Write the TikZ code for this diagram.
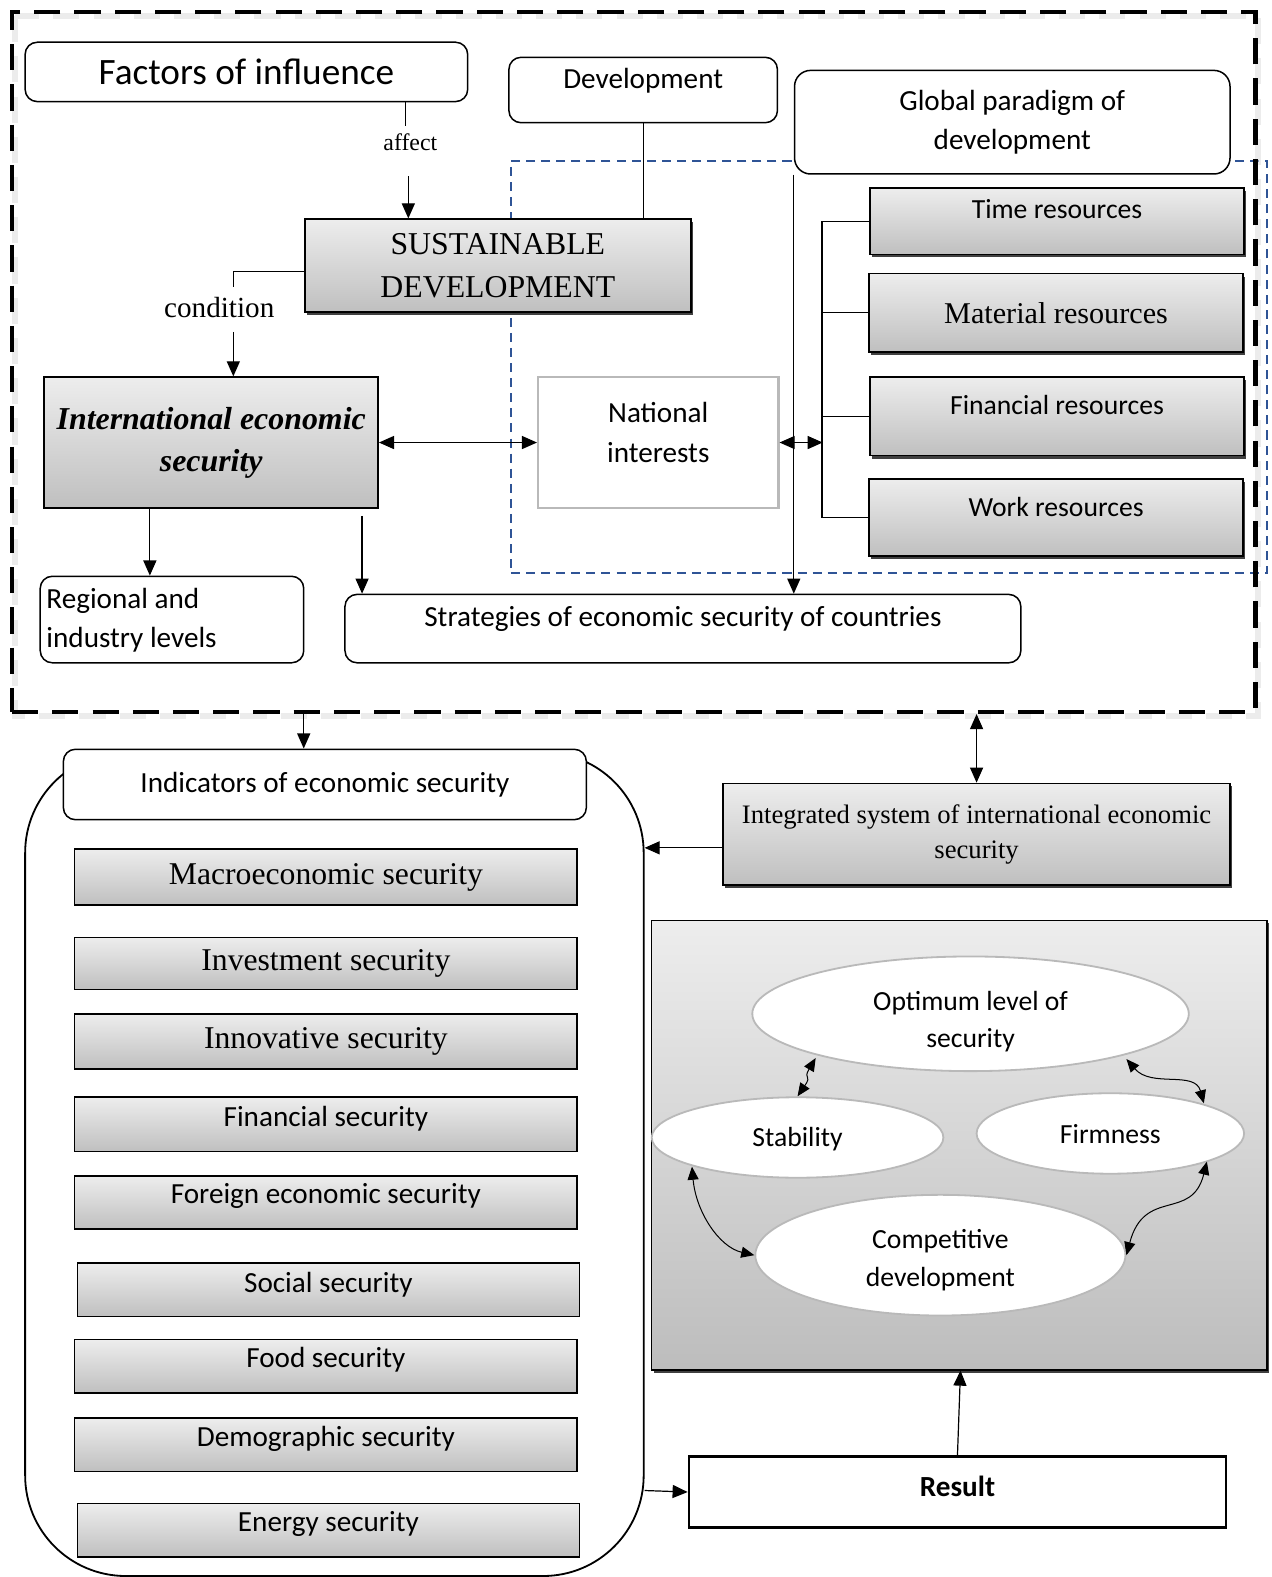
\documentclass[tikz,border=0pt]{standalone}
\usepackage{fontspec}
\setmainfont{Liberation Serif}
\newfontfamily\calib{Carlito}
\usetikzlibrary{arrows.meta,shapes.geometric,shadows}
\newcommand\fsz[2]{\fontsize{#1}{#2}\selectfont}
\definecolor{zoneblue}{HTML}{2F5496}
\tikzset{
  rbox/.style={draw, line width=1.5pt, rounded corners=12pt, fill=white, inner sep=0pt},
  gbox/.style={draw, line width=1.6pt, top color=gray!14, bottom color=gray!50, inner sep=0pt},
  gboxs/.style={gbox, drop shadow={shadow xshift=2pt, shadow yshift=-3pt, opacity=0.75, fill=black}},
  stxt/.style={inner sep=0pt, align=center, font=\calib\fsz{29}{39}},
  rtxt/.style={inner sep=0pt, align=center, font=\calib\fsz{27.5}{37}},
  itxt/.style={inner sep=0pt, align=center, font=\calib\fsz{29}{37}},
  serifitem/.style={gbox, minimum width=500pt, font=\fsz{31.5}{38}},
  sansitem/.style={gbox, minimum width=500pt},
  oval/.style={ellipse, draw=gray!55, line width=1.8pt, fill=white, inner sep=0pt},
  otxt/.style={inner sep=0pt, align=center, font=\calib\fsz{27.5}{37}},
  arr/.style={-{Triangle[length=15pt,width=13pt]}, line width=1.2pt},
  darr/.style={{Triangle[length=15pt,width=13pt]}-{Triangle[length=15pt,width=13pt]}, line width=1.2pt},
  sarr/.style={{Triangle[length=13pt,width=11pt]}-{Triangle[length=13pt,width=11pt]}, line width=1pt},
  plain/.style={line width=1.2pt},
}
\begin{document}
\begin{tikzpicture}[x=1pt,y=-1pt]
\useasboundingbox (0,0) rectangle (1264,1568);

% ---------- top frame ----------
\node[draw=zoneblue, line width=1.6pt, dash pattern=on 9pt off 6pt, minimum width=752pt, minimum height=410pt, inner sep=0pt] (zone) at (884,365) {};
\draw[gray!30, line width=6pt, dash pattern=on 26pt off 14pt, opacity=0.5] (15,16) rectangle (1251,712);
\node[draw, line width=4.8pt, dash pattern=on 26pt off 14pt, minimum width=1236pt, minimum height=696pt, inner sep=0pt] (frame) at (630,360) {};

\node[rbox, minimum width=440pt, minimum height=59pt, font=\calib\fsz{37}{44}] (fac) at (245,71.5) {Factors of influence};
\node[rbox, minimum width=267pt, minimum height=65pt] (dev) at (639.5,89.5) {};
\node[stxt] (devt) at (639.5,80) {Development};
\node[rbox, rounded corners=16pt, minimum width=433pt, minimum height=103pt, align=center, font=\calib\fsz{29}{39}] (glob) at (1006.5,121.5) {Global paradigm of\\development};

\node[gboxs, minimum width=384pt, minimum height=92pt, align=center, font=\fsz{31.6}{43}] (sd) at (495,264) {SUSTAINABLE\\DEVELOPMENT};
\node[inner sep=0pt, font=\fsz{23.7}{28}] (affect) at (408,141) {affect};
\node[inner sep=0pt, font=\fsz{29}{34}] (cond) at (218,306) {condition};

\node[gbox, minimum width=332pt, minimum height=130pt, align=center, font=\bfseries\itshape\fsz{31.7}{42}] (ies) at (210,440) {International economic\\security};
\node[draw=gray!55, line width=2.2pt, fill=white, minimum width=239pt, minimum height=130pt, inner sep=0pt] (ni) at (654.5,440) {};
\node[stxt] (nit) at (654.5,430) {National\\interests};

\node[gboxs, minimum width=372pt, minimum height=66pt] (time) at (1051,220) {};
\node[rtxt] (timet) at (1051,208) {Time resources};
\node[gboxs, minimum width=372pt, minimum height=78pt, font=\fsz{30}{36}] (mat) at (1050,311) {Material resources};
\node[gboxs, minimum width=372pt, minimum height=78pt] (fin) at (1051,414) {};
\node[rtxt] (fint) at (1051,403) {Financial resources};
\node[gboxs, minimum width=372pt, minimum height=77pt] (work) at (1050,514.5) {};
\node[rtxt] (workt) at (1050,504) {Work resources};

\node[rbox, minimum width=262pt, minimum height=86pt] (reg) at (171,616) {};
\node[stxt, anchor=west, align=left] (regt) at (46,617) {Regional and\\industry levels};
\node[rbox, minimum width=672pt, minimum height=68pt] (strat) at (679,625) {};
\node[stxt] (stratt) at (679,615) {Strategies of economic security of countries};

% top connectors
\draw[plain] (fac.south -| 403,0) -- (403,125);
\draw[arr] (406,175) -- (sd.north -| 406,0);
\draw[plain] (dev.south) -- (sd.north -| dev.south);
\draw[plain] (sd.west |- 0,270) -| (232,285);
\draw[arr] (232,330) -- (ies.north -| 232,0);
\draw[darr] (ies.east) -- (ni.west);
\draw[darr] (ni.east) -- (818,440);
\draw[plain] (time.west) -- ++(-47,0) |- (work.west);
\draw[plain] (mat.west) -- ++(-46,0);
\draw[plain] (fin.west) -- ++(-47,0);
\draw[arr] (glob.south west) -- (strat.north -| glob.south west);
\draw[arr] (ies.south -| 149,0) -- (reg.north -| 149,0);
\draw[arr] (360,513) -- (strat.north -| 360,0);

% ---------- bottom left ----------
\node[draw, line width=1.8pt, rounded corners=100pt, minimum width=615pt, minimum height=819pt, inner sep=0pt] (cont) at (332.5,1157.5) {};
\node[rbox, minimum width=520pt, minimum height=70pt, font=\calib\fsz{29}{35}] (ind) at (323,780) {Indicators of economic security};

\node[serifitem, minimum height=56pt] (macro) at (324,872) {Macroeconomic security};
\node[serifitem, minimum height=52pt] (inv) at (324,958) {Investment security};
\node[serifitem, minimum height=55pt] (inn) at (324,1035.5) {Innovative security};
\node[sansitem, minimum height=54pt] (fsec) at (324,1118) {};
\node[itxt] (fsect) at (324,1112) {Financial security};
\node[sansitem, minimum height=53pt] (fore) at (324,1195.5) {};
\node[itxt] (foret) at (324,1189) {Foreign economic security};
\node[sansitem, minimum width=499pt, minimum height=53pt] (soc) at (326.5,1282.5) {};
\node[itxt] (soct) at (326.5,1277) {Social security};
\node[sansitem, minimum height=53pt] (food) at (324,1358.5) {};
\node[itxt] (foodt) at (324,1352) {Food security};
\node[sansitem, minimum height=53pt] (demo) at (324,1436.5) {};
\node[itxt] (demot) at (324,1431) {Demographic security};
\node[sansitem, minimum width=499pt, minimum height=53pt] (ener) at (326.5,1521.5) {};
\node[itxt] (enert) at (326.5,1515) {Energy security};

% ---------- bottom right ----------
\node[gboxs, minimum width=504pt, minimum height=101pt, align=center, font=\fsz{26.5}{35}] (integ) at (971,829.5) {Integrated system of international economic\\security};
\node[draw, line width=1.5pt, top color=gray!14, bottom color=gray!52, inner sep=0pt, minimum width=612pt, minimum height=447pt, drop shadow={shadow xshift=2pt, shadow yshift=-3pt, opacity=0.75, fill=black}] (panel) at (954,1138.5) {};

\node[oval, minimum width=434pt, minimum height=114pt] (opt) at (965,1008) {};
\node[otxt] (optt) at (965,1016) {Optimum level of\\security};
\node[oval, minimum width=290pt, minimum height=80pt] (stab) at (793,1131) {};
\node[otxt] (stabt) at (793,1133) {Stability};
\node[oval, minimum width=266pt, minimum height=80pt] (firm) at (1104,1127) {};
\node[otxt] (firmt) at (1104,1128) {Firmness};
\node[oval, minimum width=368pt, minimum height=120pt] (comp) at (935,1248) {};
\node[otxt] (compt) at (935,1253) {Competitive\\development};

\node[draw, line width=2.5pt, fill=white, minimum width=534pt, minimum height=71pt, inner sep=0pt] (res) at (952,1483.5) {};
\node[inner sep=0pt, font=\calib\bfseries\fsz{29}{35}] (rest) at (952,1478) {Result};

% bottom connectors
\draw[arr] (302,710) -- (ind.north -| 302,0);
\draw[darr] (971,710) -- (integ.north);
\draw[arr] (integ.west |- 0,843) -- (cont.east |- 0,843);
\draw[arr] (res.north) -- (panel.south -| 955,0);
\draw[arr] (cont.east |- 0,1482) -- (res.west);

\draw[sarr] (811,1052) .. controls (798,1074) and (808,1068) .. (793,1090);
\draw[sarr] (1120,1053) .. controls (1145,1082) and (1188,1064) .. (1197,1097);
\draw[sarr] (688,1160) .. controls (692,1205) and (715,1240) .. (750,1248);
\draw[sarr] (1200,1155) .. controls (1185,1215) and (1138,1180) .. (1120,1248);
\end{tikzpicture}
\end{document}
